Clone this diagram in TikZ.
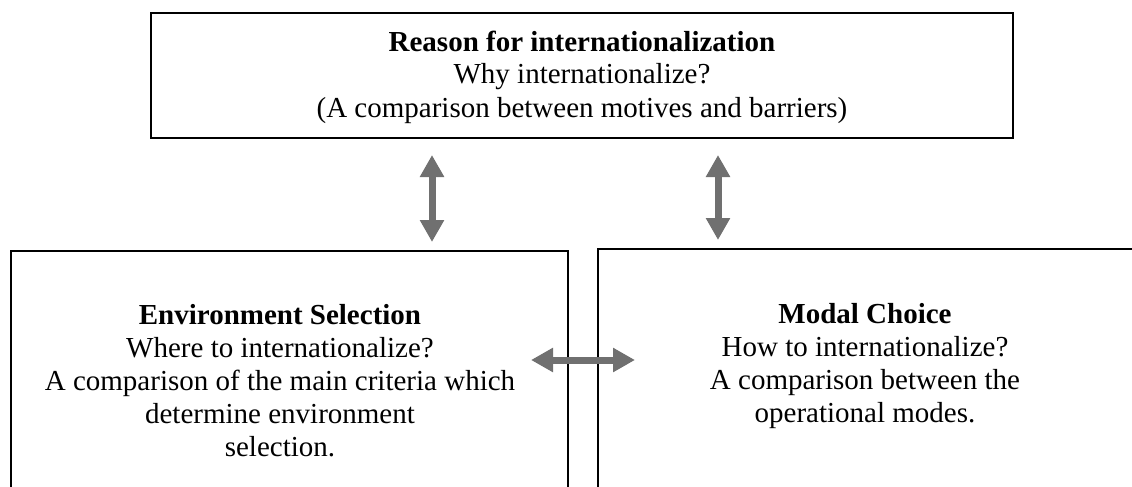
\documentclass[tikz,border=0pt]{standalone}
\usepackage{fontspec}
\setmainfont{Liberation Serif}
\usetikzlibrary{arrows.meta}
\definecolor{arrowgray}{HTML}{707070}
\begin{document}
\begin{tikzpicture}[x=1pt,y=-1pt,
  box/.style={draw=black, line width=2pt, inner sep=0pt},
  boxtext/.style={align=center, font=\fontsize{29}{33}\selectfont, inner sep=0pt, anchor=base},
  dblarrow/.style={draw=arrowgray, line width=7pt,
    {Triangle[width=23pt,length=22pt]}-{Triangle[width=23pt,length=22pt]}}
]
\useasboundingbox (0,0) rectangle (1132,487);
\clip (0,0) rectangle (1132,487);

% boxes (the lower two run past the page edge)
\node[box, minimum width=862pt, minimum height=125pt] (reason) at (582,75.5) {};
\node[box, minimum width=557pt, minimum height=269pt] (env) at (289.5,385.5) {};
\node[box, minimum width=562pt, minimum height=271pt] (modal) at (879,384.5) {};

% box texts, each placed by the baseline of its last line
\node[boxtext] (reasontext) at (582,117) {\textbf{Reason for internationalization}\\Why internationalize?\\(A comparison between motives and barriers)};
\node[boxtext] (envtext) at (280,456) {\textbf{Environment Selection}\\Where to internationalize?\\A comparison of the main criteria which\\determine environment\\selection.};
\node[boxtext] (modaltext) at (865,422) {\textbf{Modal Choice}\\How to internationalize?\\A comparison between the\\operational modes.};

% arrow end points
\coordinate (re1) at (432,155);
\coordinate (en1) at (432,242);
\coordinate (re2) at (718,155);
\coordinate (mo1) at (718,240);
\coordinate (en2) at (531,360);
\coordinate (mo2) at (635,360);

\draw[dblarrow] (re1) -- (en1);
\draw[dblarrow] (re2) -- (mo1);
\draw[dblarrow] (en2) -- (mo2);
\end{tikzpicture}
\end{document}
